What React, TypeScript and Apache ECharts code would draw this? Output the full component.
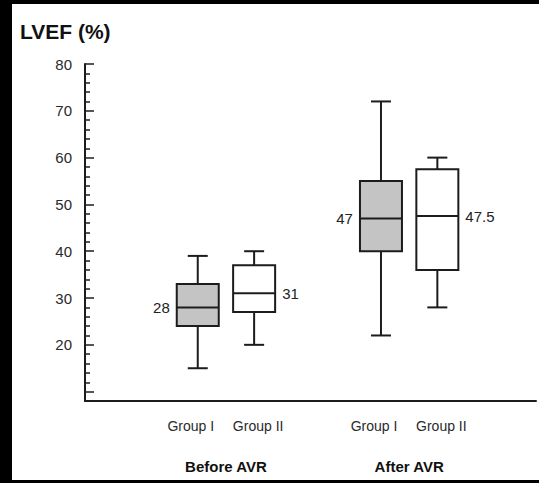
import { useEffect, useRef } from "react";
import * as echarts from "echarts";

// Study phases and patient groups
const phases = ["Before AVR", "After AVR"];
const groups = ["Group I", "Group II"];

// Five-number summaries [min, Q1, median, Q3, max] of LVEF (%) per phase
const groupIStats = [
  [15, 24, 28, 33, 39],
  [22, 40, 47, 55, 72],
];
const groupIIStats = [
  [20, 27, 31, 37, 40],
  [28, 36, 47.5, 57.5, 60],
];

// Y-axis tick labels and tick marks
const yLabelValues = [20, 30, 40, 50, 60, 70, 80];
const yMajorTicks = [10, 20, 30, 40, 50, 60, 70, 80];
const yMinorTicks = [
  12, 14, 16, 18, 22, 24, 26, 28, 32, 34, 36, 38, 42, 44, 46, 48,
  52, 54, 56, 58, 62, 64, 66, 68, 72, 74, 76, 78,
];

const FONT = '"Liberation Sans", Arial, Helvetica, sans-serif';
const INK = "#1c1c1c";

// Horizontal slot of a box: two boxes per phase, phases spread apart
const PHASE_STEP = 3.25;
const slotOf = (phase: number, group: number) => 2 + phase * PHASE_STEP + group;
const phaseCenter = (phase: number) => 2.5 + phase * PHASE_STEP;

const slotValues: number[] = [];
const slotNames: string[] = [];
phases.forEach((_, p) =>
  groups.forEach((g, gi) => {
    slotValues.push(slotOf(p, gi));
    slotNames.push(g);
  })
);
const phaseValues = phases.map((_, p) => phaseCenter(p));

const nameAt = (v: number, values: number[], names: string[]) => {
  const i = values.findIndex((x) => Math.abs(x - v) < 1e-6);
  return i >= 0 ? names[i] : "";
};

function makeRenderer(fill: string, labelSide: "left" | "right") {
  return (_params: any, api: any) => {
    const x = api.value(0);
    const cx = api.coord([x, api.value(3)])[0];
    const yMin = api.coord([x, api.value(1)])[1];
    const yQ1 = api.coord([x, api.value(2)])[1];
    const yMed = api.coord([x, api.value(3)])[1];
    const yQ3 = api.coord([x, api.value(4)])[1];
    const yMax = api.coord([x, api.value(5)])[1];
    const half = 21;
    const cap = 10;
    const lineStyle = { stroke: INK, lineWidth: 2 };
    const median = api.value(3);
    return {
      type: "group",
      children: [
        { type: "line", shape: { x1: cx, y1: yMax, x2: cx, y2: yQ3 }, style: lineStyle },
        { type: "line", shape: { x1: cx, y1: yQ1, x2: cx, y2: yMin }, style: lineStyle },
        { type: "line", shape: { x1: cx - cap, y1: yMax, x2: cx + cap, y2: yMax }, style: lineStyle },
        { type: "line", shape: { x1: cx - cap, y1: yMin, x2: cx + cap, y2: yMin }, style: lineStyle },
        {
          type: "rect",
          shape: { x: cx - half, y: yQ3, width: half * 2, height: yQ1 - yQ3 },
          style: { fill, stroke: INK, lineWidth: 2 },
        },
        { type: "line", shape: { x1: cx - half, y1: yMed, x2: cx + half, y2: yMed }, style: lineStyle },
        {
          type: "text",
          style: {
            text: String(median),
            x: labelSide === "left" ? cx - half - 7 : cx + half + 7,
            y: yMed,
            align: labelSide === "left" ? "right" : "left",
            verticalAlign: "middle",
            font: `15px ${FONT}`,
            fill: "#222",
          },
        },
      ],
    };
  };
}

const toRows = (stats: number[][], group: number) =>
  stats.map((s, p) => [slotOf(p, group), ...s]);

export default function App() {
  const ref = useRef<HTMLDivElement>(null);

  useEffect(() => {
    if (!ref.current) return;
    const chart = echarts.init(ref.current, null, { renderer: "svg" });
    chart.setOption({
      animation: false,
      backgroundColor: "#ffffff",
      grid: { left: 73, top: 60, right: 3, bottom: 79, containLabel: false, outerBoundsMode: "none" },
      graphic: [
        {
          type: "text",
          x: 8,
          y: 27,
          style: {
            text: "LVEF (%)",
            font: `bold 21px ${FONT}`,
            fill: "#111",
            verticalAlign: "middle",
          },
        },
      ],
      xAxis: [
        {
          type: "value",
          min: 0,
          max: 8,
          axisLine: { show: true, onZero: false, lineStyle: { color: INK, width: 2 } },
          axisTick: { show: false },
          splitLine: { show: false },
          axisLabel: {
            customValues: slotValues,
            margin: 18,
            formatter: (v: number) => {
              const n = nameAt(v, slotValues, slotNames);
              return n === groups[0] ? `{a|${n}}` : `{b|${n}}`;
            },
            rich: {
              a: { fontSize: 14, fontFamily: FONT, color: "#2a2a2a", padding: [0, 14, 0, 0] },
              b: { fontSize: 14, fontFamily: FONT, color: "#2a2a2a", padding: [0, 0, 0, 8] },
            },
          },
        },
        {
          type: "value",
          min: 0,
          max: 8,
          position: "bottom",
          axisLine: { show: false },
          axisTick: { show: false },
          splitLine: { show: false },
          axisLabel: {
            customValues: phaseValues,
            margin: 58,
            formatter: (v: number) => nameAt(v, phaseValues, phases),
            fontSize: 15,
            fontWeight: "bold",
            fontFamily: FONT,
            color: "#111",
          },
        },
      ],
      yAxis: [
        {
          type: "value",
          min: 8,
          max: 80,
          axisLine: { show: true, onZero: false, lineStyle: { color: INK, width: 2 } },
          axisTick: {
            show: true,
            inside: true,
            length: 9,
            customValues: yMajorTicks,
            lineStyle: { color: INK, width: 1.5 },
          },
          axisLabel: {
            customValues: yLabelValues,
            margin: 13,
            fontSize: 15,
            fontFamily: FONT,
            color: "#2a2a2a",
          },
          splitLine: { show: false },
        },
        {
          type: "value",
          min: 8,
          max: 80,
          position: "left",
          axisLine: { show: false, onZero: false },
          axisTick: {
            show: true,
            inside: true,
            length: 5,
            customValues: yMinorTicks,
            lineStyle: { color: INK, width: 1.5 },
          },
          axisLabel: { show: false },
          splitLine: { show: false },
        },
      ],
      series: [
        {
          name: groups[0],
          type: "custom",
          xAxisIndex: 0,
          yAxisIndex: 0,
          encode: { x: 0, y: [1, 2, 3, 4, 5] },
          renderItem: makeRenderer("#c4c4c4", "left"),
          data: toRows(groupIStats, 0),
        },
        {
          name: groups[1],
          type: "custom",
          xAxisIndex: 0,
          yAxisIndex: 0,
          encode: { x: 0, y: [1, 2, 3, 4, 5] },
          renderItem: makeRenderer("#ffffff", "right"),
          data: toRows(groupIIStats, 1),
        },
      ],
    });
    return () => chart.dispose();
  }, []);

  return (
    <div
      style={{
        position: "fixed",
        left: 0,
        top: 0,
        width: 539,
        height: 483,
        background: "#000",
      }}
    >
      <div
        ref={ref}
        style={{ position: "absolute", left: 12, top: 4, width: 527, height: 476 }}
      />
    </div>
  );
}
